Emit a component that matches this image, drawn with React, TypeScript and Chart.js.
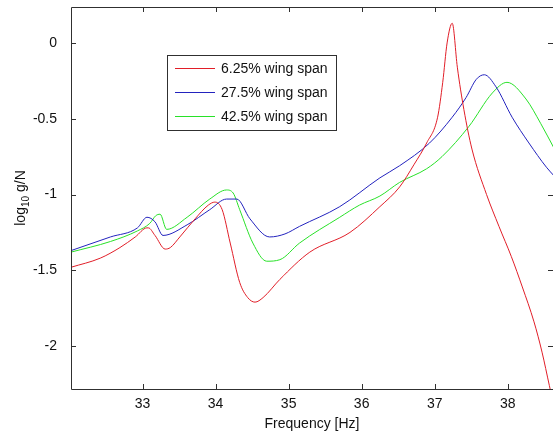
import React, { useEffect, useRef } from "react";
import { Chart, registerables } from "chart.js";

Chart.register(...registerables);

const seriesLabels = ["6.25% wing span", "27.5% wing span", "42.5% wing span"];
const seriesColors = ["rgb(225,30,40)", "rgb(35,35,190)", "rgb(40,225,40)"];

const redX = [32.02, 32.42, 32.69, 32.90, 33.06, 33.08, 33.17, 33.31, 33.38, 33.51, 33.72, 33.90, 33.99, 34.09, 34.20, 34.33, 34.44, 34.54, 34.65, 34.88, 35.29, 35.84, 36.25, 36.52, 36.72, 36.89, 37.04, 37.11, 37.17, 37.24, 37.31, 37.40, 37.51, 37.71, 37.88, 38.05, 38.20, 38.36, 38.47, 38.57, 38.64];
const redY = [-1.48, -1.42, -1.35, -1.28, -1.22, -1.22, -1.27, -1.36, -1.35, -1.28, -1.16, -1.07, -1.05, -1.10, -1.32, -1.58, -1.68, -1.71, -1.68, -1.56, -1.38, -1.25, -1.08, -0.95, -0.80, -0.66, -0.49, -0.26, 0.0, 0.13, -0.16, -0.44, -0.70, -1.00, -1.21, -1.41, -1.61, -1.84, -2.04, -2.26, -2.41];

const blueX = [32.02, 32.56, 32.93, 33.06, 33.17, 33.28, 33.61, 33.92, 34.15, 34.29, 34.47, 34.74, 34.95, 35.15, 35.70, 36.25, 36.52, 36.93, 37.24, 37.43, 37.57, 37.68, 37.84, 38.06, 38.29, 38.53, 38.64];
const blueY = [-1.37, -1.28, -1.22, -1.15, -1.18, -1.27, -1.20, -1.10, -1.03, -1.03, -1.16, -1.28, -1.26, -1.21, -1.08, -0.89, -0.81, -0.66, -0.49, -0.36, -0.24, -0.21, -0.29, -0.49, -0.66, -0.82, -0.88];

const greenX = [32.02, 32.56, 32.93, 33.10, 33.18, 33.24, 33.33, 33.61, 33.92, 34.15, 34.24, 34.33, 34.51, 34.70, 34.88, 35.15, 35.70, 35.97, 36.25, 36.52, 36.89, 37.10, 37.47, 37.79, 37.99, 38.25, 38.45, 38.64];
const greenY = [-1.38, -1.31, -1.24, -1.19, -1.14, -1.13, -1.23, -1.15, -1.03, -0.97, -0.99, -1.10, -1.32, -1.44, -1.43, -1.32, -1.15, -1.07, -1.01, -0.92, -0.83, -0.75, -0.55, -0.33, -0.26, -0.37, -0.53, -0.70];

const xTicks = [33, 34, 35, 36, 37, 38];
const yTicks = [0, -0.5, -1, -1.5, -2];
const xLabel = "Frequency [Hz]";
const yLabelParts = ["log", "10", " g/N"];

const FONT = "'Liberation Sans', Arial, sans-serif";

const framePlugin = {
  id: "frame",
  afterDatasetsDraw(chart: any) {
    const { ctx, chartArea, scales } = chart;
    const { left, right, top, bottom } = chartArea;
    ctx.save();
    ctx.strokeStyle = "#303030";
    ctx.lineWidth = 1;
    ctx.beginPath();
    ctx.rect(Math.round(left) + 0.5, Math.round(top) + 0.5, Math.round(right - left), Math.round(bottom - top));
    ctx.stroke();
    const tl = 5;
    ctx.beginPath();
    xTicks.forEach((v) => {
      const px = Math.round(scales.x.getPixelForValue(v)) + 0.5;
      ctx.moveTo(px, bottom);
      ctx.lineTo(px, bottom - tl);
      ctx.moveTo(px, top);
      ctx.lineTo(px, top + tl);
    });
    yTicks.forEach((v) => {
      const py = Math.round(scales.y.getPixelForValue(v)) + 0.5;
      ctx.moveTo(left, py);
      ctx.lineTo(left + tl, py);
      ctx.moveTo(right, py);
      ctx.lineTo(right - tl, py);
    });
    ctx.stroke();

    // legend
    const bx = 167.5, by = 55.5, bw = 169, bh = 75;
    ctx.fillStyle = "#ffffff";
    ctx.fillRect(bx, by, bw, bh);
    ctx.strokeStyle = "#303030";
    ctx.strokeRect(bx, by, bw, bh);
    const rows = [68, 92, 116];
    ctx.font = `14px ${FONT}`;
    ctx.textBaseline = "middle";
    ctx.textAlign = "left";
    seriesLabels.forEach((lab, i) => {
      ctx.strokeStyle = seriesColors[i];
      ctx.beginPath();
      ctx.moveTo(175, rows[i] + 0.5);
      ctx.lineTo(215, rows[i] + 0.5);
      ctx.stroke();
      ctx.fillStyle = "#111";
      ctx.fillText(lab, 221, rows[i] + 1);
    });

    // x label
    ctx.fillStyle = "#111";
    ctx.textAlign = "center";
    ctx.textBaseline = "alphabetic";
    ctx.font = `14px ${FONT}`;
    ctx.fillText(xLabel, (left + right) / 2, 428);

    // y label with subscript
    ctx.translate(25, 198);
    ctx.rotate(-Math.PI / 2);
    const big = `14px ${FONT}`;
    const small = `10px ${FONT}`;
    ctx.font = big;
    const w0 = ctx.measureText(yLabelParts[0]).width;
    const w2 = ctx.measureText(yLabelParts[2]).width;
    ctx.font = small;
    const w1 = ctx.measureText(yLabelParts[1]).width;
    let x0 = -(w0 + w1 + w2) / 2;
    ctx.textAlign = "left";
    ctx.font = big;
    ctx.fillText(yLabelParts[0], x0, 0);
    ctx.font = small;
    ctx.fillText(yLabelParts[1], x0 + w0, 4);
    ctx.font = big;
    ctx.fillText(yLabelParts[2], x0 + w0 + w1, 0);
    ctx.restore();
  },
};

const toPts = (xs: number[], ys: number[]) => xs.map((x, i) => ({ x, y: ys[i] }));

export default function App() {
  const ref = useRef<HTMLCanvasElement | null>(null);
  useEffect(() => {
    if (!ref.current) return;
    const chart = new Chart(ref.current, {
      type: "scatter",
      data: {
        datasets: [
          { label: seriesLabels[0], data: toPts(redX, redY) },
          { label: seriesLabels[1], data: toPts(blueX, blueY) },
          { label: seriesLabels[2], data: toPts(greenX, greenY) },
        ].map((d, i) => ({
          ...d,
          showLine: true,
          borderColor: seriesColors[i],
          backgroundColor: seriesColors[i],
          borderWidth: 1,
          pointRadius: 0,
          cubicInterpolationMode: "monotone" as const,
        })),
      },
      options: {
        animation: false,
        responsive: false,
        layout: { padding: { top: 7, right: 0, left: 0, bottom: 0 } },
        plugins: { legend: { display: false }, tooltip: { enabled: false } },
        scales: {
          x: {
            type: "linear",
            min: 32.02,
            max: 38.62,
            grid: { display: false },
            border: { display: false },
            afterBuildTicks: (s: any) => {
              s.ticks = xTicks.map((v) => ({ value: v }));
            },
            afterFit: (s: any) => {
              s.height = 45;
              s.paddingLeft = 0;
              s.paddingRight = 0;
            },
            ticks: {
              padding: -1,
              color: "#111",
              font: { family: FONT, size: 14 },
              callback: (v: any) => String(v),
              maxRotation: 0,
            },
          },
          y: {
            type: "linear",
            min: -2.283,
            max: 0.237,
            grid: { display: false },
            border: { display: false },
            afterBuildTicks: (s: any) => {
              s.ticks = yTicks.map((v) => ({ value: v }));
            },
            afterFit: (s: any) => {
              s.width = 71;
              s.paddingTop = 0;
              s.paddingBottom = 0;
            },
            ticks: {
              padding: 6,
              color: "#111",
              font: { family: FONT, size: 14 },
              callback: (v: any) => String(v),
            },
          },
        },
      },
      plugins: [framePlugin],
    });
    return () => chart.destroy();
  }, []);
  return (
    <div style={{ position: "absolute", left: 0, top: 0, width: 553, height: 434, background: "#fff" }}>
      <canvas ref={ref} width={553} height={434} style={{ display: "block" }} />
    </div>
  );
}
